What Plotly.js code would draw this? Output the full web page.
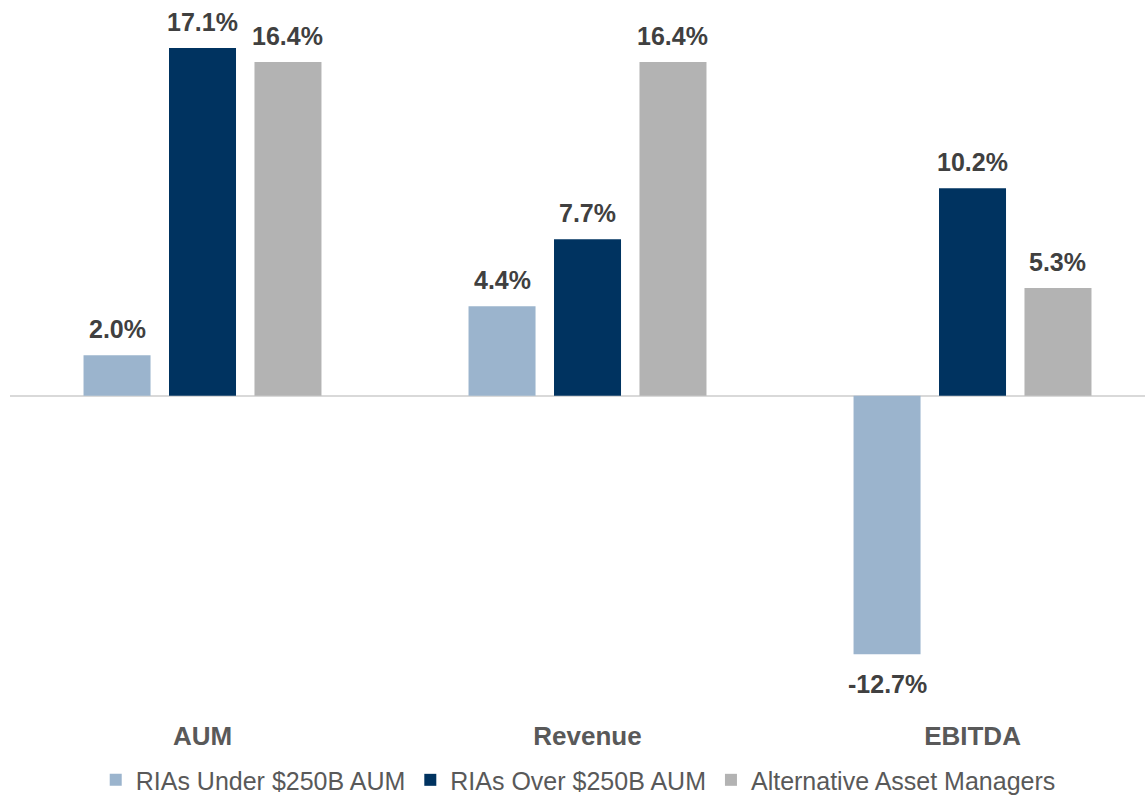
<!DOCTYPE html>
<html>
<head>
<meta charset="utf-8">
<script src="https://cdn.plot.ly/plotly-3.0.1.min.js"></script>
<style>html,body{margin:0;padding:0;background:#fff;}#chart{width:1145px;height:796px;}</style>
</head>
<body>
<div id="chart"></div>
<script>
const categories = ["AUM", "Revenue", "EBITDA"];
const seriesNames = ["RIAs Under $250B AUM", "RIAs Over $250B AUM", "Alternative Asset Managers"];
const underValues = [2.0, 4.4, -12.7];
const overValues = [17.1, 7.7, 10.2];
const altValues = [16.4, 16.4, 5.3];
const colors = ["#9BB4CD", "#003360", "#B3B3B3"];

const allValues = [underValues, overValues, altValues];
const FONT = "Arial, 'Liberation Sans', sans-serif";

const traces = allValues.map((vals, s) => ({
  type: "bar",
  name: seriesNames[s],
  x: categories,
  y: vals,
  marker: {color: colors[s], line: {width: 0}},
  hoverinfo: "skip"
}));

const slot = 0.222;
const annotations = [];
allValues.forEach((vals, s) => {
  vals.forEach((v, i) => {
    annotations.push({
      x: i + (s - 1) * slot,
      y: v,
      xref: "x", yref: "y",
      text: v.toFixed(1) + "%",
      showarrow: false,
      yanchor: v >= 0 ? "bottom" : "top",
      yshift: v >= 0 ? 10 : -14,
      font: {family: FONT, size: 25, color: "#404040", weight: "bold"}
    });
  });
});

const layout = {
  width: 1145,
  height: 796,
  margin: {l: 10, r: 0, t: 20, b: 78, autoexpand: false},
  paper_bgcolor: "#ffffff",
  plot_bgcolor: "#ffffff",
  barmode: "group",
  bargap: 0.334,
  bargroupgap: 0.216,
  showlegend: true,
  legend: {
    orientation: "h",
    xref: "container", yref: "container",
    x: 0.505, xanchor: "center",
    y: 0.02, yanchor: "middle",
    font: {family: FONT, size: 25, color: "#595959"},
    itemclick: false
  },
  xaxis: {
    type: "category",
    range: [-0.5, 2.448],
    showgrid: false,
    showline: false,
    ticks: "",
    ticklabelstandoff: 0,
    tickfont: {family: FONT, size: 26, color: "#595959", weight: "bold"},
    fixedrange: true
  },
  yaxis: {
    range: [-15.83, 18.47],
    showgrid: false,
    showticklabels: false,
    zeroline: true,
    zerolinecolor: "#D9D9D9",
    zerolinewidth: 2,
    showline: false,
    ticks: "",
    fixedrange: true
  },
  annotations: annotations
};

Plotly.newPlot("chart", traces, layout, {displayModeBar: false, staticPlot: true});
</script>
</body>
</html>
